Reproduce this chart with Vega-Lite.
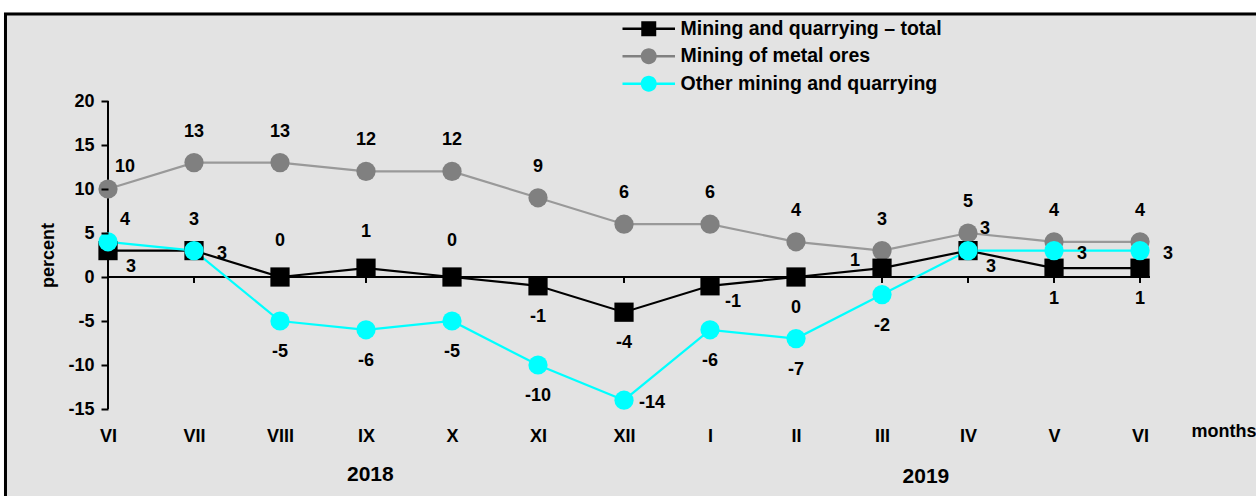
{
  "$schema": "https://vega.github.io/schema/vega-lite/v6.json",
  "width": 1042,
  "height": 308,
  "autosize": {"type": "none"},
  "padding": {"left": 108, "top": 101, "right": 106, "bottom": 87},
  "background": "#e3e3e3",
  "config": {
    "view": {"stroke": null},
    "axis": {"grid": false, "labelFont": "Liberation Sans", "labelFontWeight": "bold", "labelColor": "black", "titleFont": "Liberation Sans", "titleFontWeight": "bold", "titleColor": "black"},
    "text": {"font": "Liberation Sans", "fontWeight": "bold", "fontSize": 18, "color": "black", "baseline": "middle", "align": "center"},
    "legend": {
      "orient": "none", "legendX": 531, "legendY": -82, "title": null, "zindex": 2,
      "labelFont": "Liberation Sans", "labelFontWeight": "bold", "labelFontSize": 19.5, "labelColor": "black", "labelLimit": 0,
      "symbolSize": 196, "labelOffset": 22, "rowPadding": 6.5, "symbolStrokeWidth": 0, "symbolOpacity": 1
    }
  },
  "data": {
    "values": [
      {"i": 0, "series": "Mining of metal ores", "value": 10},
      {"i": 1, "series": "Mining of metal ores", "value": 13},
      {"i": 2, "series": "Mining of metal ores", "value": 13},
      {"i": 3, "series": "Mining of metal ores", "value": 12},
      {"i": 4, "series": "Mining of metal ores", "value": 12},
      {"i": 5, "series": "Mining of metal ores", "value": 9},
      {"i": 6, "series": "Mining of metal ores", "value": 6},
      {"i": 7, "series": "Mining of metal ores", "value": 6},
      {"i": 8, "series": "Mining of metal ores", "value": 4},
      {"i": 9, "series": "Mining of metal ores", "value": 3},
      {"i": 10, "series": "Mining of metal ores", "value": 5},
      {"i": 11, "series": "Mining of metal ores", "value": 4},
      {"i": 12, "series": "Mining of metal ores", "value": 4},
      {"i": 0, "series": "Mining and quarrying – total", "value": 3},
      {"i": 1, "series": "Mining and quarrying – total", "value": 3},
      {"i": 2, "series": "Mining and quarrying – total", "value": 0},
      {"i": 3, "series": "Mining and quarrying – total", "value": 1},
      {"i": 4, "series": "Mining and quarrying – total", "value": 0},
      {"i": 5, "series": "Mining and quarrying – total", "value": -1},
      {"i": 6, "series": "Mining and quarrying – total", "value": -4},
      {"i": 7, "series": "Mining and quarrying – total", "value": -1},
      {"i": 8, "series": "Mining and quarrying – total", "value": 0},
      {"i": 9, "series": "Mining and quarrying – total", "value": 1},
      {"i": 10, "series": "Mining and quarrying – total", "value": 3},
      {"i": 11, "series": "Mining and quarrying – total", "value": 1},
      {"i": 12, "series": "Mining and quarrying – total", "value": 1},
      {"i": 0, "series": "Other mining and quarrying", "value": 4},
      {"i": 1, "series": "Other mining and quarrying", "value": 3},
      {"i": 2, "series": "Other mining and quarrying", "value": -5},
      {"i": 3, "series": "Other mining and quarrying", "value": -6},
      {"i": 4, "series": "Other mining and quarrying", "value": -5},
      {"i": 5, "series": "Other mining and quarrying", "value": -10},
      {"i": 6, "series": "Other mining and quarrying", "value": -14},
      {"i": 7, "series": "Other mining and quarrying", "value": -6},
      {"i": 8, "series": "Other mining and quarrying", "value": -7},
      {"i": 9, "series": "Other mining and quarrying", "value": -2},
      {"i": 10, "series": "Other mining and quarrying", "value": 3},
      {"i": 11, "series": "Other mining and quarrying", "value": 3},
      {"i": 12, "series": "Other mining and quarrying", "value": 3}
    ]
  },
  "layer": [
    {
      "data": {"values": [{}]},
      "mark": {"type": "rect", "fill": null, "stroke": "white", "strokeWidth": 30, "clip": false},
      "encoding": {
        "x": {"datum": -1.384, "type": "quantitative"},
        "x2": {"datum": 16},
        "y": {"datum": 31.76, "type": "quantitative"},
        "y2": {"datum": -32}
      }
    },
    {
      "data": {"values": [{}]},
      "mark": {"type": "rect", "fill": null, "stroke": "black", "strokeWidth": 3, "clip": false},
      "encoding": {
        "x": {"datum": -1.192, "type": "quantitative"},
        "x2": {"datum": 15},
        "y": {"datum": 29.9, "type": "quantitative"},
        "y2": {"datum": -30}
      }
    },
    {
      "data": {"values": [{}]},
      "mark": {"type": "rule", "color": "black", "strokeWidth": 2},
      "encoding": {"y": {"datum": 0, "type": "quantitative"}}
    },
    {
      "data": {"values": [{}]},
      "mark": {"type": "rule", "color": "black", "strokeWidth": 2},
      "encoding": {
        "x": {"datum": 0, "type": "quantitative"},
        "y": {"datum": -15, "type": "quantitative"},
        "y2": {"datum": 20}
      }
    },
    {
      "mark": {"type": "rule", "color": "black", "strokeWidth": 2},
      "encoding": {
        "x": {"field": "i", "type": "quantitative"},
        "y": {"datum": 0, "type": "quantitative"},
        "y2": {"datum": -0.65}
      }
    },
    {
      "mark": {"type": "line", "strokeWidth": 2.2},
      "encoding": {
        "x": {
          "field": "i", "type": "quantitative",
          "scale": {"domain": [0, 12.116], "nice": false, "zero": false},
          "axis": {
            "zindex": 2,
            "orient": "bottom", "values": [0,1,2,3,4,5,6,7,8,9,10,11,12],
            "labelExpr": "['VI','VII','VIII','IX','X','XI','XII','I','II','III','IV','V','VI'][datum.value]",
            "domain": false, "ticks": false, "tickSize": 0, "labelPadding": 27, "labelBaseline": "middle",
            "labelFontSize": 18, "labelFlush": false, "labelOverlap": false,
            "title": "months", "titleX": 1083, "titleY": 22, "titleAlign": "left", "titleBaseline": "middle", "titleFontSize": 18
          }
        },
        "y": {
          "field": "value", "type": "quantitative",
          "scale": {"domain": [-15, 20], "nice": false, "zero": false},
          "axis": {
            "zindex": 2,
            "values": [-15,-10,-5,0,5,10,15,20], "labelExpr": "datum.value + ''", "domain": false, "ticks": true, "tickSize": 7, "tickWidth": 2, "tickColor": "black",
            "labelPadding": 7, "labelFontSize": 18,
            "title": "percent", "titleFontSize": 18, "titleX": -60, "titleY": 154, "titleAngle": 270, "titleAlign": "center", "titleBaseline": "middle"
          }
        },
        "stroke": {
          "field": "series", "type": "nominal",
          "scale": {"domain": ["Mining of metal ores", "Mining and quarrying – total", "Other mining and quarrying"], "range": ["#999999", "#000000", "#00ffff"]},
          "legend": null
        }
      }
    },
    {
      "transform": [{"filter": "datum.series == 'Mining of metal ores'"}],
      "mark": {"type": "point", "filled": true, "size": 370, "opacity": 1, "shape": "circle"},
      "encoding": {
        "x": {"field": "i", "type": "quantitative"},
        "y": {"field": "value", "type": "quantitative"},
        "color": {
          "field": "series", "type": "nominal",
          "scale": {"domain": ["Mining and quarrying – total", "Mining of metal ores", "Other mining and quarrying"], "range": ["#000000", "#808080", "#00ffff"]},
          "legend": {
            "encode": {
              "symbols": {
                "update": {
                  "shape": {"signal": "datum.value == 'Mining and quarrying – total' ? 'M-3.75,-0.17H3.75V0.17H-3.75Z M-1.07,-1.07H1.07V1.07H-1.07Z' : 'M-3.75,-0.17H3.75V0.17H-3.75Z M1.14,0 A1.14,1.14 0 1,1 -1.14,0 A1.14,1.14 0 1,1 1.14,0 Z'"},
                  "fill": {"scale": "color", "field": "value"},
                  "opacity": {"value": 1}
                }
              }
            }
          }
        }
      }
    },
    {
      "transform": [{"filter": "datum.series == 'Mining and quarrying – total'"}],
      "mark": {"type": "point", "filled": true, "size": 370, "opacity": 1, "shape": "square"},
      "encoding": {
        "x": {"field": "i", "type": "quantitative"},
        "y": {"field": "value", "type": "quantitative"},
        "color": {"field": "series", "type": "nominal"}
      }
    },
    {
      "transform": [{"filter": "datum.series == 'Other mining and quarrying'"}],
      "mark": {"type": "point", "filled": true, "size": 370, "opacity": 1, "shape": "circle"},
      "encoding": {
        "x": {"field": "i", "type": "quantitative"},
        "y": {"field": "value", "type": "quantitative"},
        "color": {"field": "series", "type": "nominal"}
      }
    },
    {
      "transform": [{"filter": "(datum.series == 'Mining of metal ores' && datum.i > 0) || (datum.series == 'Other mining and quarrying' && datum.i == 1)"}],
      "mark": {"type": "text", "dy": -31},
      "encoding": {"x": {"field": "i", "type": "quantitative"}, "y": {"field": "value", "type": "quantitative"}, "text": {"field": "value", "type": "nominal"}}
    },
    {
      "transform": [{"filter": "datum.series == 'Mining and quarrying – total' && indexof([2,3,4], datum.i) >= 0"}],
      "mark": {"type": "text", "dy": -36},
      "encoding": {"x": {"field": "i", "type": "quantitative"}, "y": {"field": "value", "type": "quantitative"}, "text": {"field": "value", "type": "nominal"}}
    },
    {
      "transform": [{"filter": "(datum.series == 'Other mining and quarrying' && indexof([2,3,4,5,7,8,9], datum.i) >= 0) || (datum.series == 'Mining and quarrying – total' && indexof([5,6,8,11,12], datum.i) >= 0)"}],
      "mark": {"type": "text", "dy": 31},
      "encoding": {"x": {"field": "i", "type": "quantitative"}, "y": {"field": "value", "type": "quantitative"}, "text": {"field": "value", "type": "nominal"}}
    },
    {
      "transform": [{"filter": "datum.series == 'Mining and quarrying – total' && indexof([0,7,10], datum.i) >= 0"}],
      "mark": {"type": "text", "dx": 23, "dy": 16},
      "encoding": {"x": {"field": "i", "type": "quantitative"}, "y": {"field": "value", "type": "quantitative"}, "text": {"field": "value", "type": "nominal"}}
    },
    {
      "transform": [{"filter": "(datum.series == 'Mining of metal ores' && datum.i == 0) || (datum.series == 'Other mining and quarrying' && indexof([0,10], datum.i) >= 0)"}],
      "mark": {"type": "text", "dx": 17, "dy": -22},
      "encoding": {"x": {"field": "i", "type": "quantitative"}, "y": {"field": "value", "type": "quantitative"}, "text": {"field": "value", "type": "nominal"}}
    },
    {
      "transform": [{"filter": "(datum.series == 'Mining and quarrying – total' && datum.i == 1) || (datum.series == 'Other mining and quarrying' && indexof([6,11,12], datum.i) >= 0)"}],
      "mark": {"type": "text", "dx": 28, "dy": 3},
      "encoding": {"x": {"field": "i", "type": "quantitative"}, "y": {"field": "value", "type": "quantitative"}, "text": {"field": "value", "type": "nominal"}}
    },
    {
      "transform": [{"filter": "datum.series == 'Mining and quarrying – total' && datum.i == 9"}],
      "mark": {"type": "text", "dx": -27, "dy": -7},
      "encoding": {"x": {"field": "i", "type": "quantitative"}, "y": {"field": "value", "type": "quantitative"}, "text": {"field": "value", "type": "nominal"}}
    },
    {
      "data": {"values": [{}]},
      "mark": {"type": "text", "fontSize": 21},
      "encoding": {"x": {"datum": 3.05, "type": "quantitative"}, "y": {"datum": -22.55, "type": "quantitative"}, "text": {"value": "2018"}}
    },
    {
      "data": {"values": [{}]},
      "mark": {"type": "text", "fontSize": 21},
      "encoding": {"x": {"datum": 9.51, "type": "quantitative"}, "y": {"datum": -22.78, "type": "quantitative"}, "text": {"value": "2019"}}
    }
  ]
}
